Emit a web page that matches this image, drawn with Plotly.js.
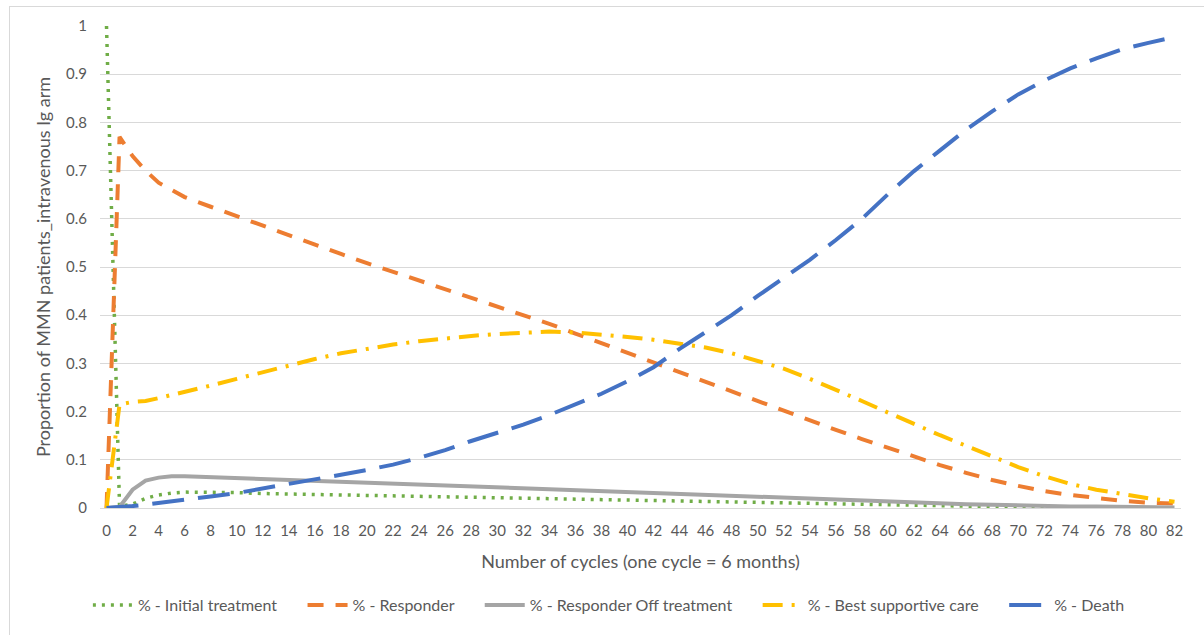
<!DOCTYPE html>
<html>
<head>
<meta charset="utf-8">
<script src="https://cdn.plot.ly/plotly-3.0.1.min.js"></script>
<style>
html,body{margin:0;padding:0;background:#fff;overflow:hidden;}
#wrap{position:relative;width:1204px;height:635px;}
#chart{position:absolute;left:0;top:0;width:1204px;height:635px;}
#frame{position:absolute;left:9px;top:6px;width:1200px;height:640px;border:1px solid #D9D9D9;pointer-events:none;}
</style>
</head>
<body>
<div id="wrap"><div id="chart"></div><div id="frame"></div></div>
<script>
const cycles = [0,1,2,3,4,5,6,8,10,12,14,16,18,20,22,24,26,28,30,32,34,36,38,40,42,44,46,48,50,52,54,56,58,60,62,64,66,68,70,72,74,76,78,80,82];

const initialTreatment = [1,0.003,0.008,0.02,0.027,0.031,0.033,0.033,0.032,0.03,0.029,0.028,0.027,0.026,0.025,0.024,0.023,0.022,0.021,0.02,0.019,0.018,0.017,0.016,0.015,0.014,0.013,0.012,0.011,0.01,0.009,0.008,0.007,0.006,0.005,0.004,0.003,0.002,0.001,0.001,0,0,0,0,0];

const responder = [0,0.77,0.73,0.70,0.675,0.66,0.645,0.625,0.605,0.585,0.565,0.545,0.527,0.508,0.49,0.472,0.455,0.437,0.42,0.40,0.382,0.362,0.342,0.322,0.302,0.282,0.262,0.24,0.22,0.2,0.18,0.162,0.143,0.125,0.106,0.089,0.073,0.058,0.046,0.035,0.027,0.02,0.015,0.011,0.009];

const responderOff = [0,0.002,0.038,0.057,0.063,0.066,0.066,0.064,0.063,0.061,0.059,0.057,0.055,0.053,0.051,0.049,0.047,0.044,0.042,0.04,0.038,0.036,0.034,0.032,0.03,0.028,0.026,0.024,0.022,0.02,0.018,0.016,0.014,0.012,0.01,0.009,0.008,0.007,0.005,0.004,0.003,0.003,0.002,0.002,0.001];

const bestSupportive = [0,0.215,0.22,0.222,0.228,0.234,0.24,0.254,0.268,0.282,0.296,0.309,0.321,0.331,0.339,0.346,0.352,0.357,0.361,0.364,0.366,0.364,0.36,0.355,0.349,0.342,0.333,0.321,0.306,0.289,0.268,0.246,0.222,0.198,0.174,0.151,0.129,0.106,0.085,0.066,0.05,0.038,0.028,0.02,0.013];

const death = [0,0.001,0.004,0.007,0.01,0.013,0.017,0.024,0.031,0.04,0.05,0.06,0.069,0.079,0.09,0.104,0.12,0.139,0.156,0.173,0.193,0.214,0.237,0.263,0.292,0.33,0.364,0.4,0.44,0.477,0.515,0.556,0.6,0.651,0.699,0.742,0.785,0.823,0.858,0.887,0.912,0.933,0.952,0.965,0.977];

const seriesNames = ['% - Initial treatment','% - Responder','% - Responder Off treatment','% - Best supportive care','% - Death'];
const xTickVals = [];
for (let i = 0; i <= 82; i += 2) xTickVals.push(i);
const yTickVals = [0,0.1,0.2,0.3,0.4,0.5,0.6,0.7,0.8,0.9,1];
const yTickText = ['0','0.1','0.2','0.3','0.4','0.5','0.6','0.7','0.8','0.9','1'];

const FONT = 'Lato, "Open Sans", sans-serif';
const TXT = '#595959';
const PAD = '\u00a0\u00a0\u00a0\u00a0\u00a0';

function tr(y, name, color, dash, width){
  return {x: cycles, y: y, name: name + PAD, type:'scatter', mode:'lines', cliponaxis:false,
          line:{color:color, width:width, dash:dash}};
}

const data = [
  tr(initialTreatment, seriesNames[0], '#70AD47', '3px,6px', 3.5),
  tr(responder, seriesNames[1], '#ED7D31', '16px,12px', 4),
  tr(responderOff, seriesNames[2], '#A5A5A5', 'solid', 4),
  tr(bestSupportive, seriesNames[3], '#FFC000', '20px,9px,3px,9px', 4),
  tr(death, seriesNames[4], '#4472C4', '32px,14px', 4)
];

const layout = {
  width:1204, height:635,
  paper_bgcolor:'rgba(0,0,0,0)', plot_bgcolor:'#fff',
  margin:{l:100, r:23, t:26, b:127},
  font:{family:FONT, color:TXT, size:15},
  showlegend:true,
  legend:{orientation:'h', x:0.48, xanchor:'center', y:-0.166, yanchor:'top',
          font:{family:FONT, size:16, color:TXT}, itemwidth:40, traceorder:'normal'},
  xaxis:{range:[-0.5,82.5], tickmode:'array', tickvals:xTickVals, ticktext:xTickVals.map(String),
         showgrid:false, zeroline:false, showline:true, linecolor:'#D9D9D9', linewidth:1,
         automargin:false,
         ticks:'', tickfont:{family:FONT,size:15,color:TXT}, ticklabelstandoff:9,
         title:{text:'Number of cycles (one cycle = 6 months)', font:{family:FONT,size:18,color:TXT}, standoff:17}},
  yaxis:{range:[0,1], tickmode:'array', tickvals:yTickVals, ticktext:yTickText,
         showgrid:true, gridcolor:'#D9D9D9', gridwidth:1, zeroline:false, showline:false,
         automargin:false,
         ticks:'', tickfont:{family:FONT,size:15,color:TXT}, ticklabelstandoff:12,
         title:{text:'Proportion of MMN patients_intravenous Ig arm', font:{family:FONT,size:18,color:TXT}, standoff:10}}
};

Plotly.newPlot('chart', data, layout, {displayModeBar:false, staticPlot:true});
</script>
</body>
</html>
